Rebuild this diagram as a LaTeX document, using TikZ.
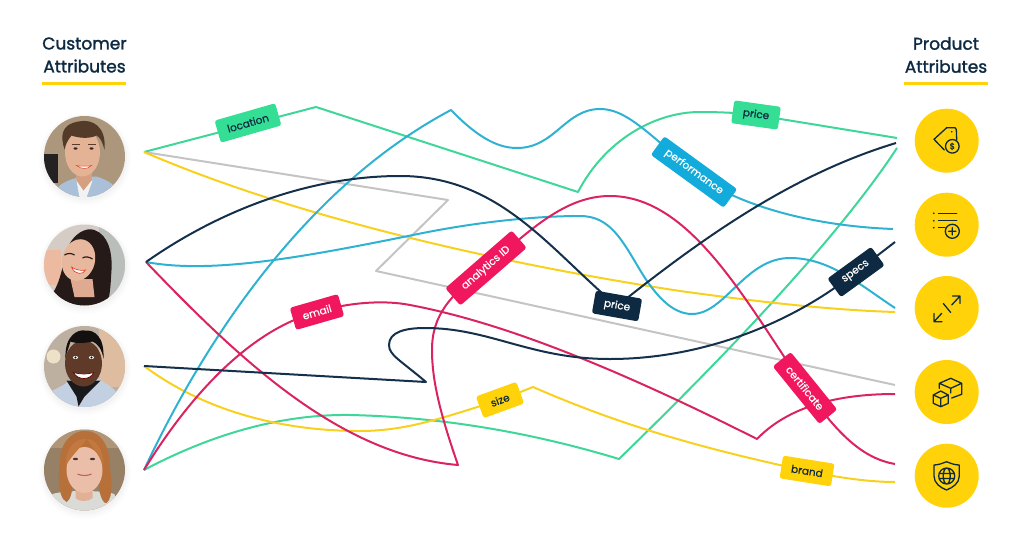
\documentclass[tikz,border=0pt]{standalone}
\usepackage{fontspec}
\setmainfont{Poppins}
\newfontfamily\tagfont[FakeBold=0.5]{Poppins}
\newfontfamily\headfont[FakeBold=1.6]{Poppins}
\definecolor{navyline}{HTML}{14304A}
\definecolor{greenline}{HTML}{3FD69A}
\definecolor{cyanline}{HTML}{2FB2D2}
\definecolor{crimsonline}{HTML}{D9245F}
\definecolor{goldline}{HTML}{F7D11E}
\definecolor{grayline}{HTML}{C4C4C4}
\definecolor{cyantag}{HTML}{12ABDB}
\definecolor{crimsontag}{HTML}{F0175F}
\definecolor{goldtag}{HTML}{FFD20A}
\definecolor{greentag}{HTML}{34DE94}
\definecolor{navytag}{HTML}{0E2A42}
\tikzset{
  wire/.style={line width=2pt, line join=round},
  attrtag/.style={rounded corners=2.5pt, inner sep=0pt, minimum height=23pt, font=\tagfont\fontsize{10.5}{12}\selectfont},
  heading/.style={align=center, text=navytag, font=\headfont\fontsize{17}{23}\selectfont},
  badge/.style={circle, fill=goldtag, minimum size=64pt, inner sep=0pt},
  glyph/.style={draw=navytag, line width=1.3pt, line join=round, line cap=round},
}
\begin{document}
\begin{tikzpicture}[x=1pt, y=-1pt]

  \useasboundingbox (0,0) rectangle (1024,543);

  % Wire ends at the people
  \coordinate (C1) at (144,152);
  \coordinate (C2) at (146,262);
  \coordinate (C3) at (144,366);
  \coordinate (C4) at (144,470);

  % Wire ends at the products
  \coordinate (R1) at (897,138);
  \coordinate (R2) at (896,143);
  \coordinate (R3) at (897,148);
  \coordinate (R4) at (893,229);
  \coordinate (R5) at (895,242);
  \coordinate (R6) at (895,308);
  \coordinate (R7) at (895,312);
  \coordinate (R8) at (895,385);
  \coordinate (R9) at (895,394);
  \coordinate (R10) at (895,464);
  \coordinate (R11) at (895,482);

  % Sharp turns
  \coordinate (T1) at (316,107);
  \coordinate (T2) at (578,192);
  \coordinate (T3) at (448,200);
  \coordinate (T4) at (376,271);
  \coordinate (T5) at (451,110);
  \coordinate (T6) at (458,465);
  \coordinate (T7) at (426,382);
  \coordinate (T8) at (533,387);
  \coordinate (T9) at (619,459);
  \coordinate (T10) at (757,439);

  % Tag positions
  \coordinate (Tlocation) at (248,123);
  \coordinate (Tprice) at (756,115);
  \coordinate (Tperformance) at (694,172);
  \coordinate (Tanalytics) at (486,268);
  \coordinate (Temail) at (317,312);
  \coordinate (Tpricedark) at (617,306);
  \coordinate (Tspecs) at (856,272);
  \coordinate (Tcertificate) at (805,388);
  \coordinate (Tsize) at (500,400);
  \coordinate (Tbrand) at (807,471);

  % Gray and green wires
  \draw [wire, grayline] (C1) -- (T3) -- (T4) -- (R8);
  \draw [wire, greenline] (C1) -- (T1) -- (T2) .. controls (605,140) and (655,112) .. (700,112) .. controls (720,112) and (740,113) .. (Tprice) -- (R1);
  \draw [wire, greenline] (C4) .. controls (210,435) and (280,414) .. (350,415) .. controls (440,417) and (530,432) .. (T9) .. controls (700,380) and (830,250) .. (R3);

  % Gold wires
  \draw [wire, goldline] (C1) .. controls (290,215) and (490,262) .. (680,291) .. controls (760,302) and (830,310) .. (R7);
  \draw [wire, goldline] (C3) .. controls (210,415) and (290,431) .. (360,431) .. controls (410,431) and (450,415) .. (Tsize) -- (T8) .. controls (620,425) and (700,448) .. (Tbrand) .. controls (840,478) and (870,482) .. (R11);

  % Cyan wires
  \draw [wire, cyanline] (C2) .. controls (210,274) and (300,258) .. (413,235) .. controls (480,221) and (540,216) .. (580,216) .. controls (610,216) and (622,240) .. (640,270) .. controls (655,295) and (672,314) .. (692,314) .. controls (725,314) and (745,258) .. (790,258) .. controls (830,258) and (860,285) .. (R6);
  \draw [wire, cyanline] (C4) .. controls (200,350) and (300,190) .. (T5) .. controls (480,140) and (500,148) .. (517,148) .. controls (555,148) and (565,109) .. (600,109) .. controls (625,109) and (645,130) .. (Tperformance) .. controls (720,195) and (790,225) .. (R4);

  % Crimson wires
  \draw [wire, crimsonline] (C2) .. controls (240,360) and (340,455) .. (T6) .. controls (437,405) and (432,375) .. (432,350) .. controls (432,315) and (450,295) .. (Tanalytics) .. controls (530,230) and (565,196) .. (610,196) .. controls (690,196) and (745,300) .. (Tcertificate) .. controls (835,430) and (860,458) .. (R10);
  \draw [wire, crimsonline] (C4) .. controls (190,395) and (250,330) .. (Temail) .. controls (350,302) and (385,300) .. (410,305) .. controls (500,322) and (610,365) .. (T10) .. controls (785,410) and (830,394) .. (R9);

  % Navy wires
  \draw [wire, navyline] (C2) .. controls (220,210) and (310,176) .. (400,176) .. controls (500,176) and (550,250) .. (Tpricedark) .. controls (700,240) and (790,175) .. (R2);
  \draw [wire, navyline] (C3) -- (T7) .. controls (400,360) and (389,355) .. (389,345) .. controls (389,332) and (405,328) .. (425,328) .. controls (490,328) and (530,359) .. (610,359) .. controls (700,359) and (790,325) .. (Tspecs) -- (R5);

  % Tags on the wires
  \node [attrtag, fill=greentag, text=navytag, minimum width=63pt, rotate=16] (location) at (Tlocation) {location};
  \node [attrtag, fill=greentag, text=navytag, minimum width=47pt, rotate=-8] (price) at (Tprice) {price};
  \node [attrtag, fill=cyantag, text=white, minimum width=90pt, rotate=-36] (performance) at (Tperformance) {performance};
  \node [attrtag, fill=crimsontag, text=white, minimum width=88pt, rotate=41] (analytics) at (Tanalytics) {analytics ID};
  \node [attrtag, fill=crimsontag, text=white, minimum width=50pt, rotate=16] (email) at (Temail) {email};
  \node [attrtag, fill=navytag, text=white, minimum width=47pt, rotate=-10] (pricedark) at (Tpricedark) {price};
  \node [attrtag, fill=navytag, text=white, minimum width=54pt, rotate=36] (specs) at (Tspecs) {specs};
  \node [attrtag, fill=crimsontag, text=white, minimum width=74pt, rotate=-51] (certificate) at (Tcertificate) {certificate};
  \node [attrtag, fill=goldtag, text=navytag, minimum width=43pt, rotate=20] (size) at (Tsize) {size};
  \node [attrtag, fill=goldtag, text=navytag, minimum width=52pt, rotate=-9] (brand) at (Tbrand) {brand};

  % Headings
  \node [heading] (customer) at (84.5,55) {Customer\\Attributes};
  \node [heading] (product) at (946,55) {Product\\Attributes};
  \draw [goldtag, line width=2.5pt] (42,83.5) -- (126,83.5);
  \draw [goldtag, line width=2.5pt] (904,83.5) -- (988,83.5);

  % Product badges
  \node [badge] (tagbadge) at (946.7,140.7) {};
  \node [badge] (listbadge) at (946.7,224.7) {};
  \node [badge] (sizebadge) at (946.7,308) {};
  \node [badge] (boxbadge) at (946.7,392) {};
  \node [badge] (shieldbadge) at (946.7,475.7) {};

  % Price tag icon
  \draw [glyph] (944.3,150) -- (934,139.3) -- (946.7,127.7) -- (955,127.7) .. controls (956,127.7) and (956.3,128.3) .. (956.3,129.5) -- (956.7,140);
  \fill [navytag] (951.7,131.7) circle (0.9pt);
  \draw [glyph, fill=goldtag] (952.3,146.3) circle (6.8pt);
  \node [text=navytag, inner sep=0pt, font=\tagfont\fontsize{8.5}{9}\selectfont] (dollar) at (952.3,146.3) {\$};

  % List icon
  \draw [glyph] (938.5,213.3) -- (956.7,213.3) (938.5,220.8) -- (956.7,220.8) (938.5,227.7) -- (945,227.7);
  \foreach \yy in {213.3,220.8,227.7}
    \fill [navytag] (933.8,\yy) circle (0.9pt);
  \draw [glyph] (952.3,231.3) circle (7pt) (948.6,231.3) -- (956,231.3) (952.3,227.6) -- (952.3,235);

  % Resize icon
  \draw [glyph] (951.7,305) -- (960,296) (952.5,296) -- (960,296) -- (960,303.5);
  \draw [glyph] (941.7,313.3) -- (934,321.7) (934,313.5) -- (934,321.7) -- (942,321.7);
  \draw [glyph] (943.3,303.5) -- (950.7,312.5);

  % Boxes icon
  \draw [glyph] (939.3,388.3) -- (939.3,383.3) -- (950.7,378.3) -- (961.7,383.3) -- (961.7,394.3) -- (951.7,398) (939.3,383.3) -- (950.7,388.3) -- (961.7,383.3) (950.7,388.3) -- (950.7,393);
  \draw [glyph] (933.3,395) -- (940.7,391) -- (948.3,395) -- (948.3,403.3) -- (940.7,406.7) -- (933.3,403.3) -- cycle (933.3,395) -- (940.7,398.3) -- (948.3,395) (940.7,398.3) -- (940.7,406.7);

  % Shield icon
  \draw [glyph] (934,465) .. controls (938,465) and (942,463.5) .. (946.5,461.7) .. controls (951,463.5) and (955,465) .. (959.3,465) -- (959.3,476) .. controls (959.3,483) and (953,487.5) .. (946.5,490) .. controls (940,487.5) and (934,483) .. (934,476) -- cycle;
  \draw [glyph] (946.7,476) circle (8pt) (946.7,476) ellipse [x radius=3.5pt, y radius=8pt] (939,473.5) -- (954.4,473.5) (939,478.5) -- (954.4,478.5);

  % Soft shadows below the portraits
  \foreach \yy in {156.5,265,366.5,470} {
    \fill [black, opacity=0.012] (85,\yy+3) circle (46pt);
    \fill [black, opacity=0.015] (85,\yy+2.5) circle (44pt);
    \fill [black, opacity=0.02] (85,\yy+2) circle (42pt);
  }

  % First portrait
  \begin{scope}[shift={(84.5,156.5)}]
    \clip (0,0) circle (40.5pt);
    \fill [color={rgb,255:red,172;green,150;blue,124}] (-41,-41) rectangle (41,41);
    \fill [color={rgb,255:red,35;green,33;blue,33}] (-41,-3) rectangle (-27,26);
    \fill [color={rgb,255:red,170;green,192;blue,217}] (-32,41) .. controls (-28,26) and (-16,24) .. (-4,20) -- (12,20) .. controls (24,24) and (32,28) .. (36,41) -- cycle;
    \fill [white!90!gray] (-8,24) -- (8,24) -- (2,41) -- (-5,41) -- cycle;
    \fill [color={rgb,255:red,214;green,160;blue,128}] (-9,8) -- (8,8) -- (7,24) -- (-1,34) -- (-8,24) -- cycle;
    \fill [color={rgb,255:red,228;green,178;blue,148}] (-2,-4) ellipse [x radius=17.5pt, y radius=24pt];
    \fill [color={rgb,255:red,84;green,58;blue,40}] (-20,-7) .. controls (-24,-20) and (-24,-32) .. (-6,-35) .. controls (8,-38) and (22,-30) .. (20,-7) .. controls (18,-14) and (16,-19) .. (12,-21) .. controls (4,-17) and (-8,-19) .. (-13,-21) .. controls (-17,-16) and (-19,-12) .. (-20,-7) -- cycle;
    \draw [line width=1.1pt, color={rgb,255:red,90;green,60;blue,45}] (-13,-12) -- (-5,-12) (3,-12) -- (11,-12);
    \fill [color={rgb,255:red,50;green,40;blue,40}] (-9,-8) ellipse [x radius=2pt, y radius=1.2pt] (7,-8) ellipse [x radius=2pt, y radius=1.2pt];
    \fill [white, draw=red!50!brown, line width=0.5pt] (-8,9) .. controls (-3,10) and (3,10) .. (7,9) .. controls (3,13) and (-3,13) .. (-8,9) -- cycle;
  \end{scope}

  % Second portrait
  \begin{scope}[shift={(84.5,265)}]
    \clip (0,0) circle (40.5pt);
    \fill [color={rgb,255:red,214;green,204;blue,198}] (-41,-41) rectangle (41,41);
    \fill [color={rgb,255:red,186;green,190;blue,186}] (14,-41) rectangle (41,41);
    \fill [color={rgb,255:red,236;green,186;blue,160}] (-41,-15) rectangle (-24,20);
    \fill [color={rgb,255:red,38;green,26;blue,24}] (-33,30) .. controls (-24,18) and (-22,0) .. (-18,-14) .. controls (-12,-32) and (2,-38) .. (10,-35) .. controls (24,-30) and (28,-12) .. (27,5) .. controls (26,20) and (26,30) .. (22,41) -- (-24,41) -- cycle;
    \fill [color={rgb,255:red,222;green,170;blue,145}] (-14,14) -- (8,14) -- (10,32) -- (-10,32) -- cycle;
    \fill [color={rgb,255:red,232;green,184;blue,158},rotate around={-14:(-6,-5)}] (-6,-5) ellipse [x radius=16.5pt, y radius=21pt];
    \draw [line width=1.2pt, color={rgb,255:red,45;green,28;blue,28}] (-20,-10) .. controls (-17,-12) and (-13,-12) .. (-10,-10) (-2,-7) .. controls (1,-9) and (5,-8) .. (8,-6);
    \fill [white, draw=red!60!brown, line width=0.6pt] (-13,2) .. controls (-9,5) and (-3,6) .. (1,5) .. controls (-1,10) and (-10,10) .. (-13,2) -- cycle;
  \end{scope}

  % Third portrait
  \begin{scope}[shift={(84.5,366.5)}]
    \clip (0,0) circle (40.5pt);
    \fill [color={rgb,255:red,190;green,176;blue,160}] (-41,-41) rectangle (41,41);
    \fill [color={rgb,255:red,222;green,188;blue,160}] (14,-41) rectangle (41,20);
    \fill [color={rgb,255:red,236;green,226;blue,200}] (-31,-10) circle (7pt);
    \fill [color={rgb,255:red,195;green,208;blue,226}] (-34,41) -- (-32,24) .. controls (-24,20) and (-18,18) .. (-14,12) -- (14,12) .. controls (22,18) and (28,20) .. (32,26) -- (36,41) -- cycle;
    \fill [color={rgb,255:red,25;green,25;blue,28}] (-18,14) -- (16,14) -- (0,30) -- (-6,40) -- (-8,30) -- cycle;
    \fill [color={rgb,255:red,95;green,58;blue,40}] (-1,-3) ellipse [x radius=18.5pt, y radius=23pt];
    \fill [color={rgb,255:red,20;green,16;blue,15}] (-19,-8) .. controls (-20,-32) and (-6,-37) .. (0,-36) .. controls (10,-37) and (20,-30) .. (19,-8) .. controls (17,-18) and (13,-23) .. (8,-25) .. controls (0,-23) and (-10,-23) .. (-14,-25) .. controls (-16,-18) and (-18,-14) .. (-19,-8) -- cycle;
    \fill [white] (-9,-9) ellipse [x radius=2.6pt, y radius=1.5pt] (7,-9) ellipse [x radius=2.6pt, y radius=1.5pt];
    \fill [black] (-9,-9) circle (1.2pt) (7,-9) circle (1.2pt);
    \fill [white, draw=black!60!red, line width=0.7pt] (-11,6) .. controls (-4,8) and (3,8) .. (9,6) .. controls (6,14) and (-7,14) .. (-11,6) -- cycle;
  \end{scope}

  % Fourth portrait
  \begin{scope}[shift={(84.5,470)}]
    \clip (0,0) circle (40.5pt);
    \fill [color={rgb,255:red,150;green,128;blue,102}] (-41,-41) rectangle (41,41);
    \fill [color={rgb,255:red,176;green,150;blue,118}] (-41,-40) rectangle (41,-22);
    \fill [color={rgb,255:red,218;green,218;blue,214}] (-36,41) -- (-32,24) .. controls (-20,20) and (18,20) .. (30,24) -- (34,41) -- cycle;
    \fill [color={rgb,255:red,226;green,176;blue,150}] (-9,10) -- (8,10) -- (8,28) .. controls (4,32) and (-6,32) .. (-9,28) -- cycle;
    \fill [color={rgb,255:red,184;green,112;blue,58}] (-18,32) .. controls (-28,27) and (-26,0) .. (-24,-14) .. controls (-22,-32) and (-8,-40) .. (1,-39) .. controls (14,-39) and (24,-28) .. (25,-8) .. controls (26,5) and (30,27) .. (22,33) .. controls (18,34) and (14,22) .. (14,12) -- (-12,12) .. controls (-12,22) and (-14,30) .. (-18,32) -- cycle;
    \fill [color={rgb,255:red,234;green,190;blue,168}] (0,0) ellipse [x radius=18pt, y radius=23pt];
    \fill [color={rgb,255:red,194;green,120;blue,62}] (-19,-4) .. controls (-19,-24) and (-8,-32) .. (2,-31) .. controls (-2,-24) and (-12,-16) .. (-19,-4) -- cycle;
    \fill [color={rgb,255:red,194;green,120;blue,62}] (2,-31) .. controls (12,-31) and (19,-20) .. (19,-4) .. controls (15,-14) and (8,-24) .. (2,-31) -- cycle;
    \fill [color={rgb,255:red,70;green,50;blue,45}] (-9,-11) ellipse [x radius=2.6pt, y radius=1.2pt] (8,-11) ellipse [x radius=2.6pt, y radius=1.2pt];
    \draw [line width=1.1pt, color={rgb,255:red,190;green,100;blue,90}] (-7,4) .. controls (-3,6) and (3,6) .. (7,4);
  \end{scope}

\end{tikzpicture}
\end{document}
